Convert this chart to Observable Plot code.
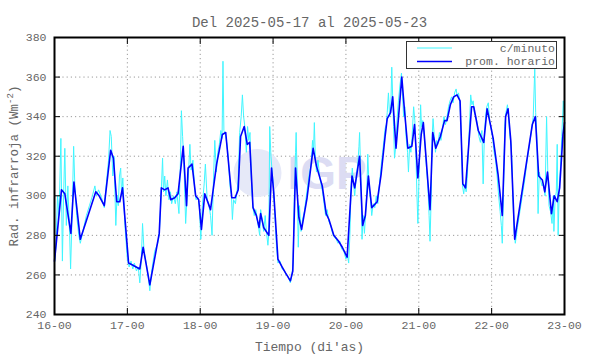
<!DOCTYPE html>
<html><head><meta charset="utf-8">
<script src="https://cdn.jsdelivr.net/npm/d3@7"></script>
<script src="https://cdn.jsdelivr.net/npm/@observablehq/plot@0.6"></script>
<style>body{margin:0;background:#fff} #chart{width:590px;height:354px}</style>
</head><body><div id="chart"></div>
<script>
const titleText = "Del 2025-05-17 al 2025-05-23";
const xLabelText = "Tiempo (di'as)";
const legendLabels = ["c/minuto", "prom. horario"];
const xTickDays = [16, 17, 18, 19, 20, 21, 22, 23];
const yTicks = [240, 260, 280, 300, 320, 340, 360, 380];
const startDay = 16;

// hourly average: [hours since 16-00, W m^-2]
const hourlyAvg = [
[0,267],[2.3,303],[3.4,301],[5.4,281],[6.4,307],[8.5,278],[13.6,302],[14.7,300],[16.4,295],[18.5,323],
[19.4,319],[20.5,297],[21.5,297],[22.4,304],[24.4,266],[25.7,265],[28.1,263],[29.2,274],[31.4,255],[34.5,281],
[35.2,304],[36.3,303],[37.4,304],[38.3,298],[39.6,299],[40.7,301],[42.4,325],[43.5,295],[44.0,314],[45.3,316],
[46.5,300],[47.5,298],[48.4,283],[49.5,301],[51.4,293],[53.4,316],[55.3,331],[56.4,332],[58.4,299],[59.5,299],
[60.5,303],[61.3,330],[62.5,335],[63.5,326],[64.3,327],[65.4,294],[66.5,290],[67.4,284],[67.9,291],[68.9,284],
[70.6,280],[71.5,314],[72.2,302],[73.6,268],[75.0,264],[76.1,261],[77.7,257],[78.5,262],[79.4,314],[80.5,289],
[81.4,283],[83.2,299],[85.2,324],[86.3,315],[88.2,305],[89.5,291],[90.4,288],[92.0,280],[93.6,277],[94.8,274],
[96.4,269],[98.0,310],[98.9,304],[100.5,320],[101.5,285],[102.4,290],[103.4,310],[104.5,294],[106.3,297],[107.6,311],
[108.9,330],[109.6,339],[110.7,342],[111.4,350],[112.5,324],[114.4,360],[115.3,343],[116.4,324],[117.7,325],[118.6,336],
[119.7,309],[120.8,331],[121.5,337],[122.4,319],[123.7,293],[124.6,332],[125.6,324],[127.1,330],[128.5,338],[129.3,338],
[130.4,346],[131.5,350],[132.6,351],[133.6,348],[134.5,306],[135.4,304],[137.4,345],[138.1,345],[139.6,333],[141.4,327],
[142.5,344],[143.6,336],[144.5,329],[146.1,311],[147.5,290],[148.6,340],[149.4,344],[150.3,328],[151.6,278],[157.4,336],
[158.4,340],[159.5,310],[160.7,308],[161.5,302],[162.4,312],[163.7,291],[164.6,300],[165.6,297],[166.4,304],[167.5,331],
[168.0,337]
];

// per-minute readings: [hours since 16-00, W m^-2]
const minuteReadings = [
[0.0,266],[0.5,275],[1.0,300],[1.5,290],[2.1,329],[2.6,267],[3.0,300],[3.4,324],[3.9,285],[4.4,305],
[5.0,280],[5.3,263],[5.8,290],[6.3,325],[6.7,305],[7.3,290],[8.0,280],[8.5,276],[9.5,283],[10.5,290],
[11.5,295],[12.5,300],[13.3,305],[13.8,300],[14.5,303],[15.5,299],[16.4,294],[17.0,305],[17.8,318],[18.3,333],
[18.7,330],[19.2,310],[19.6,320],[20.2,285],[20.6,300],[21.0,295],[21.4,310],[21.8,314],[22.1,300],[22.5,309],
[23.2,285],[24.0,268],[24.6,264],[25.2,267],[25.8,263],[26.3,266],[27.0,262],[27.6,264],[28.1,256],[28.6,268],
[29.0,286],[29.5,272],[30.2,266],[30.8,260],[31.4,252],[32.0,262],[33.0,272],[34.0,276],[34.5,280],[35.0,296],
[35.6,319],[35.9,302],[36.3,310],[36.7,300],[37.2,308],[37.7,298],[38.2,302],[38.6,296],[39.2,300],[39.8,296],
[40.3,302],[41.0,291],[41.5,318],[41.8,343],[42.2,330],[42.6,318],[43.2,286],[43.7,300],[44.1,310],[44.6,326],
[45.0,313],[45.6,318],[46.1,305],[46.6,298],[47.3,299],[47.7,295],[48.2,278],[48.7,295],[49.3,306],[49.7,316],
[50.3,298],[50.8,296],[51.4,290],[51.9,280],[52.3,305],[52.8,328],[53.3,312],[53.8,322],[54.3,326],[54.8,333],
[55.2,329],[55.5,368],[55.8,333],[56.3,331],[56.8,326],[57.3,318],[57.8,305],[58.3,300],[58.6,288],[59.0,298],
[59.6,296],[60.1,302],[60.5,308],[61.0,332],[61.5,340],[61.9,351],[62.3,340],[62.7,335],[63.2,322],[63.6,335],
[64.0,328],[64.4,332],[64.8,310],[65.3,295],[65.8,290],[66.3,293],[66.8,288],[67.3,283],[67.6,280],[67.9,293],
[68.4,288],[68.9,282],[69.4,290],[69.8,282],[70.3,275],[70.6,281],[70.9,335],[71.3,320],[71.7,312],[72.1,305],
[72.6,290],[73.1,275],[73.6,266],[74.3,267],[75.0,263],[75.7,262],[76.4,260],[77.0,259],[77.7,256],[78.2,260],
[78.6,266],[79.0,300],[79.4,322],[79.6,332],[79.9,310],[80.3,274],[80.7,295],[81.2,282],[81.7,288],[82.3,292],
[82.8,298],[83.4,305],[84.0,312],[84.5,315],[85.0,328],[85.3,322],[85.6,337],[85.9,320],[86.3,312],[86.8,318],
[87.3,310],[87.8,306],[88.3,302],[88.8,296],[89.3,290],[89.8,293],[90.4,287],[91.0,285],[91.6,281],[92.2,279],
[92.8,278],[93.4,276],[94.0,277],[94.6,273],[95.3,272],[96.0,268],[96.5,270],[96.9,266],[97.3,280],[97.7,305],
[98.1,314],[98.5,306],[98.9,300],[99.4,310],[99.9,316],[100.3,325],[100.5,332],[100.9,310],[101.3,278],[101.7,290],
[102.1,281],[102.5,292],[102.9,303],[103.2,321],[103.6,305],[104.1,298],[104.5,290],[105.0,296],[105.5,294],[106.0,300],
[106.5,296],[107.0,305],[107.6,315],[108.1,322],[108.5,328],[108.9,334],[109.3,336],[109.6,342],[110.0,352],[110.4,340],
[110.8,345],[111.1,365],[111.4,350],[111.7,335],[112.0,319],[112.5,326],[112.9,340],[113.3,348],[113.8,356],[114.3,362],
[114.6,352],[115.0,340],[115.4,345],[115.8,330],[116.3,322],[116.6,312],[117.0,326],[117.4,322],[117.8,330],[118.3,345],
[118.7,338],[119.1,318],[119.4,300],[119.7,286],[120.0,305],[120.3,325],[120.6,346],[120.9,335],[121.3,338],[121.7,332],
[122.1,325],[122.5,315],[123.0,305],[123.4,290],[123.7,277],[124.1,300],[124.4,330],[124.7,339],[125.1,330],[125.5,322],
[125.9,328],[126.3,326],[126.8,332],[127.3,328],[127.8,334],[128.3,340],[128.8,336],[129.3,340],[129.8,345],[130.3,348],
[130.8,350],[131.3,347],[131.8,352],[132.3,354],[132.7,350],[133.1,352],[133.6,346],[134.0,330],[134.4,305],[134.8,301],
[135.2,306],[135.6,302],[136.0,310],[136.4,325],[136.8,340],[137.1,351],[137.5,346],[137.9,348],[138.3,342],[138.8,340],
[139.3,336],[139.8,330],[140.3,327],[140.8,333],[141.2,306],[141.6,330],[142.0,340],[142.4,345],[142.9,347],[143.3,338],
[143.8,334],[144.3,330],[144.8,322],[145.3,318],[145.8,310],[146.3,300],[146.8,292],[147.2,285],[147.5,276],[147.9,300],
[148.3,335],[148.7,342],[149.2,346],[149.6,340],[150.0,330],[150.5,325],[151.0,300],[151.4,282],[151.8,276],[152.5,284],
[153.3,292],[154.1,300],[154.9,308],[155.7,318],[156.5,326],[157.2,334],[157.7,340],[158.2,364],[158.5,342],[158.9,330],
[159.3,291],[159.7,312],[160.1,308],[160.6,305],[161.1,306],[161.6,300],[162.1,340],[162.5,312],[162.9,295],[163.4,292],
[163.9,286],[164.3,300],[164.5,282],[164.9,298],[165.3,302],[165.6,326],[165.9,280],[166.3,305],[166.7,315],[167.1,330],
[167.6,348],[168.0,337]
];

const hourly = hourlyAvg.map(([h, v]) => ({t: startDay + h / 24, v}));
const minute = minuteReadings.map(([h, v]) => ({t: startDay + h / 24, v}));

const mono = "'Liberation Mono', 'Courier New', monospace";
const textColor = "#666";
const gridStyle = {stroke: "#9a9a9a", strokeOpacity: 1, strokeWidth: 1, strokeDasharray: "1.2,3"};

const svg = Plot.plot({
  width: 590, height: 354,
  marginLeft: 54, marginRight: 26, marginTop: 37, marginBottom: 40,
  style: {fontFamily: mono, fontSize: "11.5px", color: textColor, background: "#fff", overflow: "visible"},
  x: {domain: [16, 23], label: null},
  y: {domain: [240, 380], label: null},
  marks: [
    Plot.gridX(xTickDays, gridStyle),
    Plot.gridY(yTicks, gridStyle),
    // watermark
    Plot.dot([0], {frameAnchor: "middle", dx: -52, dy: -3, r: 24, fill: "#e6e9f8", stroke: null}),
    Plot.text(["IGP"], {frameAnchor: "middle", dx: -22, dy: -2, textAnchor: "start", fontSize: 46, fontWeight: "bold", fontFamily: "'Liberation Sans', Arial, sans-serif", fill: "#dcdcf3"}),
    Plot.line(minute, {x: "t", y: "v", stroke: "#3ff6ff", strokeWidth: 1}),
    Plot.line(hourly, {x: "t", y: "v", stroke: "#0000ff", strokeWidth: 1.6}),
    // labels
    Plot.axisX({ticks: xTickDays, anchor: "bottom", tickSize: 0, tickPadding: 6, tickFormat: d => `${d}-00`, fill: textColor}),
    Plot.axisY({ticks: yTicks, anchor: "left", tickSize: 0, tickPadding: 8, tickFormat: d => `${d}`, fill: textColor}),
    // inward ticks
    Plot.axisX({ticks: xTickDays, anchor: "bottom", tickSize: 6, dy: -6, tickFormat: () => "", stroke: "#000"}),
    Plot.axisX({ticks: xTickDays, anchor: "top", tickSize: 6, dy: 6, tickFormat: () => "", stroke: "#000"}),
    Plot.axisY({ticks: yTicks, anchor: "left", tickSize: 6, dx: 6, tickFormat: () => "", stroke: "#000"}),
    Plot.axisY({ticks: yTicks, anchor: "right", tickSize: 6, dx: -6, tickFormat: () => "", stroke: "#000"}),
    Plot.frame({stroke: "#000", strokeWidth: 2}),
    Plot.text([titleText], {frameAnchor: "top", dy: -11, lineAnchor: "bottom", fontSize: 14, fill: textColor}),
    Plot.text([xLabelText], {frameAnchor: "bottom", dy: 36, lineAnchor: "bottom", fontSize: 13, fill: textColor})
  ]
});

const s = d3.select(svg);
// y-axis title with superscript
const yl = s.append("text")
  .attr("transform", "translate(18,166) rotate(-90)")
  .attr("text-anchor", "middle")
  .attr("font-family", mono).attr("font-size", 12.5).attr("fill", textColor);
yl.append("tspan").text("Rad. infrarroja (Wm");
yl.append("tspan").attr("baseline-shift", "super").attr("font-size", 9).text("-2");
yl.append("tspan").text(")");

// legend box
const lg = s.append("g");
lg.append("rect").attr("x", 406.5).attr("y", 41.5).attr("width", 150).attr("height", 27)
  .attr("fill", "#fff").attr("stroke", "#333").attr("stroke-width", 1);
const legendColors = ["#3ff6ff", "#0000ff"];
const legendWidths = [1, 1.6];
legendLabels.forEach((lab, i) => {
  const y = 48 + i * 13.5;
  lg.append("line").attr("x1", 417).attr("x2", 452).attr("y1", y).attr("y2", y)
    .attr("stroke", legendColors[i]).attr("stroke-width", legendWidths[i]);
  lg.append("text").attr("x", 555).attr("y", y).attr("dy", "0.32em").attr("text-anchor", "end")
    .attr("font-family", mono).attr("font-size", 11.5).attr("fill", textColor).text(lab);
});

document.getElementById("chart").appendChild(svg);
</script>
</body></html>
